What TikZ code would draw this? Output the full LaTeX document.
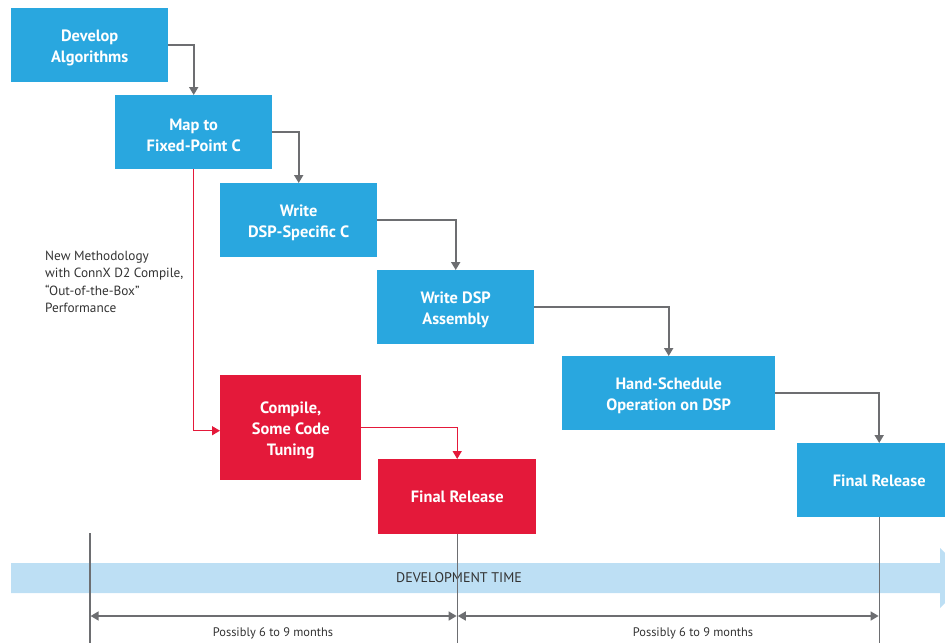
\documentclass[tikz,border=0pt]{standalone}
\usepackage{fontspec}
\setmainfont{PT Sans}
\usetikzlibrary{arrows.meta}
\definecolor{bxblue}{HTML}{29A7DF}
\definecolor{bxred}{HTML}{E4193A}
\definecolor{conn}{HTML}{6D6E71}
\definecolor{band}{HTML}{BDDFF4}
\definecolor{txtgray}{HTML}{333333}
\begin{document}
\begin{tikzpicture}[x=1pt,y=-1pt,
  box/.style={rectangle, inner sep=0pt, anchor=north west},
  basetext/.style={text=white, font=\fontsize{16.4}{21}\selectfont\bfseries, align=center, inner sep=0pt},
  boxtext/.style={basetext, yshift=-3pt},
  onetext/.style={basetext, yshift=-0.5pt},
  bluebox/.style={box, fill=bxblue},
  redbox/.style={box, fill=bxred},
  gconn/.style={draw=conn, line width=1.8pt, -{Triangle[width=9pt,length=8pt]}},
  rconn/.style={draw=bxred, line width=1.4pt, -{Triangle[width=9pt,length=8pt]}},
  tick/.style={draw=conn, line width=1.2pt},
  dim/.style={draw=conn, line width=1.6pt, {Triangle[width=9pt,length=8pt]}-{Triangle[width=9pt,length=8pt]}},
  lbl/.style={text=txtgray, font=\fontsize{12.4}{14}\selectfont, inner sep=0pt}
]
\useasboundingbox (0,0) rectangle (945,643);
\clip (0,0) rectangle (945,643);

% time band
\fill[band] (11,563) -- (940,563) -- (940,548) -- (970,578) -- (940,608) -- (940,593) -- (11,593) -- cycle;
\node[lbl, font=\fontsize{14}{16}\selectfont] (dt) at (459,578) {DEVELOPMENT TIME};

% boxes
\node[bluebox, minimum width=157pt, minimum height=74pt,
  label={[boxtext]center:Develop\\Algorithms}] (a) at (11,8) {};
\node[bluebox, minimum width=157pt, minimum height=74pt,
  label={[boxtext]center:Map to\\Fixed-Point C}] (b) at (115,95) {};
\node[bluebox, minimum width=157pt, minimum height=74pt,
  label={[boxtext]center:Write\\DSP-Specific C}] (c) at (220,183) {};
\node[bluebox, minimum width=157pt, minimum height=74pt,
  label={[boxtext]center:Write DSP\\Assembly}] (d) at (377,270) {};
\node[bluebox, minimum width=213pt, minimum height=74pt,
  label={[boxtext]center:Hand-Schedule\\Operation on DSP}] (e) at (562,356) {};
\node[bluebox, minimum width=164pt, minimum height=74pt,
  label={[onetext]center:Final Release}] (f) at (797,443) {};
\node[redbox, minimum width=141pt, minimum height=105pt,
  label={[boxtext]center:Compile,\\Some Code\\Tuning}] (g) at (220,375) {};
\node[redbox, minimum width=158pt, minimum height=75pt,
  label={[onetext]center:Final Release}] (h) at (378,459) {};

% side text
\node[lbl, anchor=north west, align=left, font=\fontsize{13.3}{17.3}\selectfont] (nm) at (45,251)
  {New Methodology\\with ConnX D2 Compile,\\``Out-of-the-Box''\\Performance};

% connectors
\draw[gconn] (a.east) -| (b.north);
\draw[gconn] (b.east) -| (c.north);
\draw[gconn] (c.east) -| (d.north);
\draw[gconn] (d.east) -| (e.north);
\draw[gconn] (e.east) -| (f.north);
\draw[rconn] (b.south) |- ([yshift=-3pt]g.west);
\draw[rconn] (g.east) -| (h.north);

% ticks
\coordinate (t0top) at (90,533);
\coordinate (t0) at (90,643);
\coordinate (t1) at (h.south |- t0);
\coordinate (t2) at (f.south |- t0);
\draw[tick] (t0top) -- (t0);
\draw[tick] (h.south) -- (t1);
\draw[tick] (f.south) -- (t2);

% dimension arrows
\coordinate (d0) at (90.6,616);
\coordinate (d1) at ([xshift=-0.6pt]h.south |- d0);
\coordinate (d2) at ([xshift=0.6pt]h.south |- d0);
\coordinate (d3) at ([xshift=-0.6pt]f.south |- d0);
\draw[dim] (d0) -- (d1);
\draw[dim] (d2) -- (d3);
\node[lbl] (m1) at (273,633) {Possibly 6 to 9 months};
\node[lbl] (m2) at (693,633) {Possibly 6 to 9 months};
\end{tikzpicture}
\end{document}
